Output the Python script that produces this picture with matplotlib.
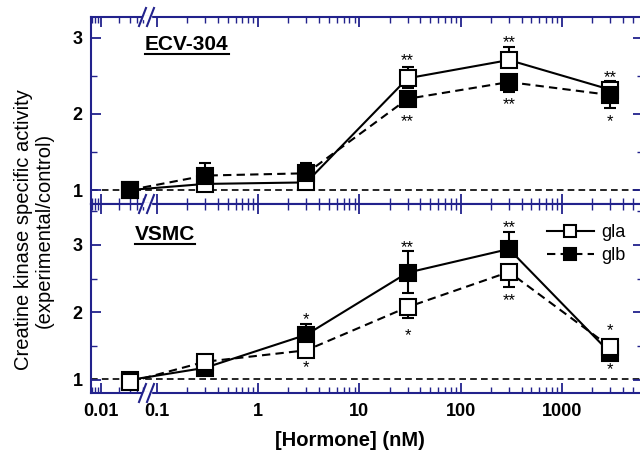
import numpy as np
import matplotlib
matplotlib.use("Agg")
import matplotlib.pyplot as plt
import matplotlib.transforms as mtransforms
from matplotlib.lines import Line2D
from matplotlib.patches import Rectangle
from matplotlib.ticker import FixedLocator, FixedFormatter, NullFormatter

plt.rcParams['font.family'] = ['Liberation Sans', 'DejaVu Sans']

AXC = '#22228c'   # navy axis colour

# ---------------- data ----------------
conc = [0.03, 0.3, 3, 30, 300, 3000]   # nM (first point = control, left of axis break)

# ECV-304 panel
ecv_gla = [1.00, 1.08, 1.10, 2.47, 2.71, 2.32]
ecv_gla_lo = [0, 0, 0.07, 0.13, 0, 0]
ecv_gla_hi = [0, 0, 0, 0.15, 0.17, 0.12]
ecv_glb = [1.00, 1.19, 1.22, 2.20, 2.42, 2.25]
ecv_glb_lo = [0, 0, 0, 0, 0.13, 0.17]
ecv_glb_hi = [0, 0.17, 0.14, 0, 0, 0]

# VSMC panel (solid line / filled squares, dashed line / open squares as drawn)
vsmc_solid = [1.00, 1.18, 1.67, 2.59, 2.94, 1.40]
vsmc_solid_lo = [0, 0, 0, 0.30, 0.10, 0]
vsmc_solid_hi = [0, 0, 0.16, 0.32, 0.25, 0]
vsmc_dash = [0.97, 1.27, 1.44, 2.08, 2.60, 1.49]
vsmc_dash_lo = [0, 0, 0.10, 0.16, 0.22, 0]
vsmc_dash_hi = [0, 0, 0, 0, 0, 0]

# significance marks
ecv_star_x = [30, 30, 300, 300, 3000, 3000]
ecv_star_y = [2.77, 1.96, 3.00, 2.18, 2.54, 1.96]
ecv_star_t = ['**', '**', '**', '**', '**', '*']
vsmc_star_x = [3, 3, 30, 30, 300, 300, 3000, 3000]
vsmc_star_y = [1.96, 1.25, 3.03, 1.73, 3.33, 2.24, 1.80, 1.22]
vsmc_star_t = ['*', '*', '**', '*', '**', '**', '*', '*']

xtick_major = [0.01, 0.1, 1, 10, 100, 1000]
xtick_labels = ['0.01', '0.1', '1', '10', '100', '1000']
xtick_minor = [0.007, 0.008, 0.009, 0.02, 0.03, 0.04, 0.05] + \
    [k * 10.0 ** e for e in range(-1, 4) for k in range(2, 10) if k * 10.0 ** e < 6300]

# ---------------- broken log x scale ----------------
A = 60 / 101.3          # left segment is compressed
B = (101 + 120 - 258) / 101.3
L1 = -1.267             # log10 end of left segment
L2 = -1.066             # log10 start of main segment
U1 = A * L1 + B
U2 = L2


def fwd(x):
    L = np.log10(np.clip(np.asarray(x, float), 1e-12, None))
    mid = U1 + (L - L1) * (U2 - U1) / (L2 - L1)
    return np.where(L <= L1, A * L + B, np.where(L >= L2, L, mid))


def inv(u):
    u = np.asarray(u, float)
    mid = L1 + (u - U1) * (L2 - L1) / (U2 - U1)
    L = np.where(u <= U1, (u - B) / A, np.where(u >= U2, u, mid))
    return 10 ** L


W, H = 640, 458
fig = plt.figure(figsize=(6.4, 4.58), dpi=100)


def fx(px):
    return px / W


def fy(py):
    return 1 - py / H


left, right = 91, 643
ax1 = fig.add_axes([fx(left), fy(204), fx(right - left), (204 - 17) / H])
ax2 = fig.add_axes([fx(left), fy(393), fx(right - left), (393 - 204) / H])

xlo = inv((left - 258) / 101.3)
xhi = inv((right - 258) / 101.3)


def style(ax, ylim):
    ax.set_xscale('function', functions=(fwd, inv))
    ax.set_xlim(float(xlo), float(xhi))
    ax.set_ylim(*ylim)
    ax.xaxis.set_major_locator(FixedLocator(xtick_major))
    ax.xaxis.set_minor_locator(FixedLocator(xtick_minor))
    ax.xaxis.set_minor_formatter(NullFormatter())
    ax.yaxis.set_major_locator(FixedLocator([1, 2, 3]))
    ax.yaxis.set_minor_locator(FixedLocator([1.5, 2.5, 3.5]))
    ax.tick_params(which='both', direction='in', top=True, right=True,
                   colors=AXC, labelcolor='k')
    ax.tick_params(which='major', length=7, width=1.3)
    ax.tick_params(which='minor', length=4, width=1.0)
    ax.tick_params(axis='y', labelsize=13, pad=6)
    ax.tick_params(axis='x', labelsize=13, pad=7)
    for s in ax.spines.values():
        s.set_color(AXC)
        s.set_linewidth(1.5)


style(ax1, (0.816, 3.276))
style(ax2, (0.807, 3.607))
ax1.xaxis.set_major_formatter(NullFormatter())
ax2.xaxis.set_major_formatter(FixedFormatter(xtick_labels))
for lab in ax2.get_xticklabels() + ax1.get_yticklabels() + ax2.get_yticklabels():
    lab.set_fontweight('bold')

dash_ref = (0, (4, 2.5))
line_dash = (0, (4, 2.5))
ms = 11
star_fs = 12


def stars(ax, xs, ys, ts):
    # asterisks sit high in the em box: put glyph centre on the target y
    tr = mtransforms.offset_copy(ax.transData, fig=fig, y=-0.55 * star_fs, units='points')
    for x, y, t in zip(xs, ys, ts):
        ax.text(x, y, t, ha='center', va='baseline', fontsize=star_fs, transform=tr)


# ---- ECV-304 ----
ax1.axhline(1.0, color='k', lw=1.2, ls=dash_ref, zorder=1)
ax1.errorbar(conc, ecv_gla, yerr=[ecv_gla_lo, ecv_gla_hi], fmt='none', ecolor='k',
             elinewidth=1.5, capsize=4, capthick=1.5, zorder=2)
ax1.errorbar(conc, ecv_glb, yerr=[ecv_glb_lo, ecv_glb_hi], fmt='none', ecolor='k',
             elinewidth=1.5, capsize=4, capthick=1.5, zorder=2)
ax1.plot(conc, ecv_gla, color='k', lw=1.5, ls='-', marker='s', ms=ms,
         mfc='white', mec='k', mew=1.5, zorder=3)
ax1.plot(conc, ecv_glb, color='k', lw=1.5, ls=line_dash, marker='s', ms=ms,
         mfc='k', mec='k', mew=1.5, zorder=4)
stars(ax1, ecv_star_x, ecv_star_y, ecv_star_t)

# ---- VSMC ----
ax2.axhline(1.02, color='k', lw=1.2, ls=dash_ref, zorder=1)
ax2.errorbar(conc, vsmc_solid, yerr=[vsmc_solid_lo, vsmc_solid_hi], fmt='none',
             ecolor='k', elinewidth=1.5, capsize=4, capthick=1.5, zorder=2)
ax2.errorbar(conc, vsmc_dash, yerr=[vsmc_dash_lo, vsmc_dash_hi], fmt='none',
             ecolor='k', elinewidth=1.5, capsize=4, capthick=1.5, zorder=2)
ax2.plot(conc, vsmc_solid, color='k', lw=1.5, ls='-', marker='s', ms=ms,
         mfc='k', mec='k', mew=1.5, zorder=3)
ax2.plot(conc, vsmc_dash, color='k', lw=1.5, ls=line_dash, marker='s', ms=ms,
         mfc='white', mec='k', mew=1.5, zorder=4)
stars(ax2, vsmc_star_x, vsmc_star_y, vsmc_star_t)

handles = [
    Line2D([], [], color='k', lw=1.5, ls='-', marker='s', ms=9, mfc='white', mec='k', mew=1.5),
    Line2D([], [], color='k', lw=1.5, ls=line_dash, marker='s', ms=9, mfc='k', mec='k', mew=1.5),
]
fig.legend(handles, ['gla', 'glb'], loc='upper left',
           bbox_to_anchor=(fx(547), fy(224)), bbox_transform=fig.transFigure,
           frameon=False, fontsize=13, handlelength=2.6, handletextpad=0.4,
           borderpad=0, borderaxespad=0, labelspacing=0.35, numpoints=1)

# panel labels (underlined)
t1 = fig.text(fx(145), fy(50), 'ECV-304', fontsize=15, fontweight='bold',
              ha='left', va='baseline')
t2 = fig.text(fx(135), fy(240), 'VSMC', fontsize=15, fontweight='bold',
              ha='left', va='baseline')
fig.canvas.draw()
for t, uy in ((t1, 54), (t2, 244)):
    bb = t.get_window_extent()
    fig.add_artist(Line2D([bb.x0 / W, bb.x1 / W], [fy(uy), fy(uy)],
                          transform=fig.transFigure, color='k', lw=1.5))

# axis labels
fig.text(fx(34), fy(230), 'Creatine kinase specific activity\n(experimental/control)',
         rotation=90, ha='center', va='center', multialignment='center',
         fontsize=14.5, linespacing=1.15)
fig.text(fx(350), fy(440), '[Hormone] (nM)', ha='center', va='center',
         fontsize=14.5, fontweight='bold')

# axis-break marks on the horizontal spines
for sy in (17, 204, 393):
    fig.add_artist(Rectangle((fx(143), fy(sy + 1.5)), fx(8), 3 / H,
                             transform=fig.transFigure, color='white', zorder=10))
    for x0 in (139, 147):
        fig.add_artist(Line2D([fx(x0), fx(x0 + 7)], [fy(sy + 9), fy(sy - 9)],
                              transform=fig.transFigure, color=AXC, lw=1.5, zorder=11))

fig.savefig('out.png', dpi=100)
